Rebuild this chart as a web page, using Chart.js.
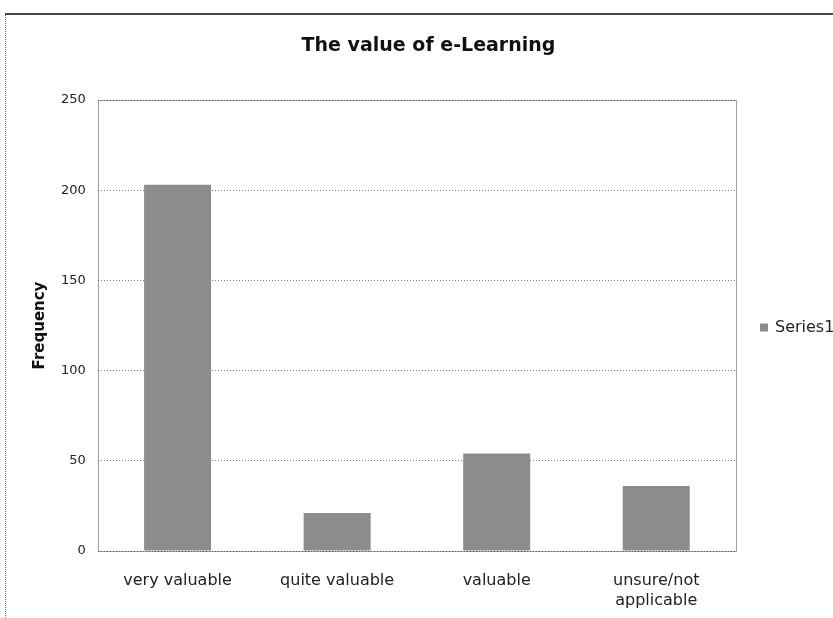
<!DOCTYPE html>
<html>
<head>
<meta charset="utf-8">
<script src="https://cdn.jsdelivr.net/npm/chart.js@4.4.1/dist/chart.umd.min.js"></script>
<style>
  html, body { margin: 0; padding: 0; background: #fff; }
  #wrap { position: relative; width: 833px; height: 618px; }
</style>
</head>
<body>
<div id="wrap"><canvas id="valueChart" width="833" height="618"></canvas></div>
<script>
const chartTitle = "The value of e-Learning";
const seriesName = "Series1";
const categories = ["very valuable", "quite valuable", "valuable", ["unsure/not", "applicable"]];
const frequency = [203, 21, 54, 36];
const yTicks = [0, 50, 100, 150, 200, 250];

const font = "'DejaVu Sans', Verdana, sans-serif";
const barGray = "#8c8c8c";

// page frame, plot frame, title and the single legend entry
const decorPlugin = {
    id: "decor",
    beforeDraw(chart) {
        const c = chart.ctx;
        c.save();
        c.strokeStyle = "#666";
        c.lineWidth = 1;
        c.setLineDash([1, 1]);
        c.beginPath();
        c.moveTo(5.5, 618);
        c.lineTo(5.5, 14.5);
        c.stroke();
        c.setLineDash([]);
        c.strokeStyle = "#444";
        c.lineWidth = 2;
        c.beginPath();
        c.moveTo(5, 14);
        c.lineTo(833, 14);
        c.stroke();
        c.restore();
    },
    afterDatasetsDraw(chart) {
        const a = chart.chartArea;
        const c = chart.ctx;
        c.save();
        c.strokeStyle = "#444";
        c.lineWidth = 1;
        c.setLineDash([1, 1]);
        c.strokeRect(Math.round(a.left) + 0.5, Math.round(a.top) + 0.5,
            Math.round(a.right - a.left), Math.round(a.bottom - a.top));
        c.setLineDash([]);

        // title
        c.fillStyle = "#111";
        c.font = "bold 19px " + font;
        c.textAlign = "center";
        c.textBaseline = "middle";
        c.fillText(chartTitle, chart.width / 2 + 12, 46);

        // legend
        const midY = (a.top + a.bottom) / 2 + 2;
        c.fillStyle = barGray;
        c.fillRect(a.right + 24, midY - 4, 8, 8);
        c.fillStyle = "#222";
        c.font = "16px " + font;
        c.textAlign = "left";
        c.fillText(seriesName, a.right + 39, midY);
        c.restore();
    }
};

new Chart(document.getElementById("valueChart").getContext("2d"), {
    type: "bar",
    data: {
        labels: categories,
        datasets: [{
            label: seriesName,
            data: frequency,
            backgroundColor: barGray,
            borderWidth: 0,
            barPercentage: 0.42,
            categoryPercentage: 1.0,
        }],
    },
    options: {
        responsive: false,
        animation: false,
        layout: { padding: { left: 31, right: 97, top: 100, bottom: 0 } },
        scales: {
            y: {
                min: 0,
                max: 250,
                afterBuildTicks(axis) {
                    axis.ticks = yTicks.map(v => ({ value: v }));
                },
                ticks: { color: "#222", font: { family: font, size: 13 }, padding: 12 },
                grid: { color: "#777", drawTicks: false, lineWidth: 1 },
                border: { display: false, dash: [1, 2] },
                title: {
                    display: true,
                    text: "Frequency",
                    color: "#111",
                    font: { family: font, size: 15, weight: "bold" },
                    padding: { top: 0, bottom: 0 },
                },
            },
            x: {
                afterFit(axis) {
                    axis.height = 67;
                },
                ticks: {
                    color: "#222",
                    font: { family: font, size: 16, lineHeight: 1.25 },
                    padding: 20,
                    maxRotation: 0,
                },
                grid: { display: false, drawTicks: false },
                border: { display: false },
            },
        },
        plugins: {
            title: { display: false },
            legend: { display: false },
            tooltip: { enabled: false },
        },
    },
    plugins: [decorPlugin],
});
</script>
</body>
</html>
